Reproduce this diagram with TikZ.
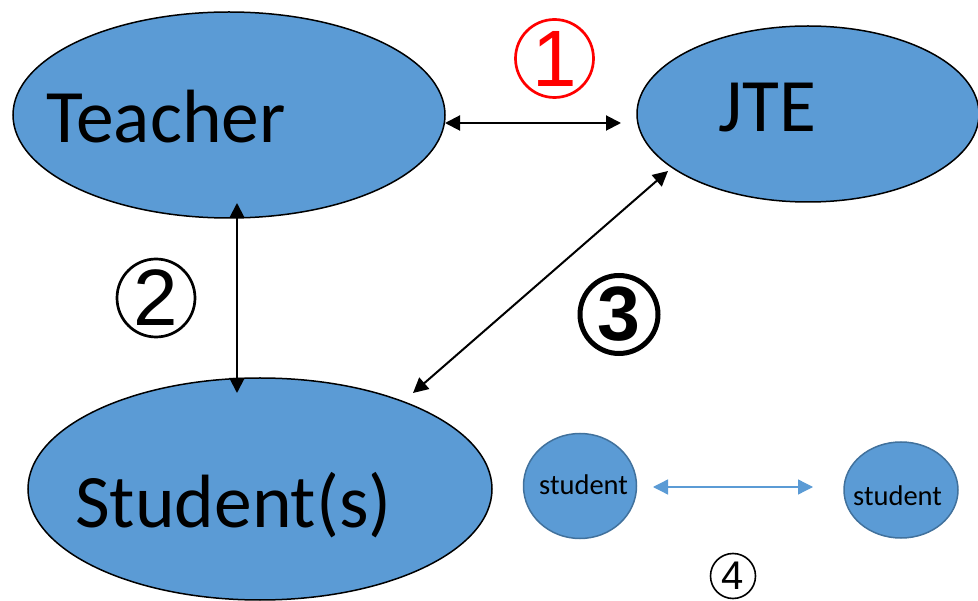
\documentclass[tikz,border=0pt]{standalone}
\usepackage{fontspec}
\setmainfont{Carlito}
\newfontfamily\numfont{Liberation Sans}
\usetikzlibrary{arrows.meta,shapes.geometric}
\definecolor{fillblue}{HTML}{5B9BD5}
\definecolor{edgeblue}{HTML}{41719C}
\tikzset{
  bigell/.style={ellipse,draw=black,line width=1.5pt,fill=fillblue,inner sep=0pt},
  smallell/.style={ellipse,draw=edgeblue,line width=1.5pt,fill=fillblue,inner sep=0pt},
  bigtext/.style={anchor=base west,inner sep=0pt,font=\fontsize{75.5}{75.5}\selectfont},
  smalltext/.style={anchor=base west,inner sep=0pt,font=\fontsize{28.5}{28.5}\selectfont},
  twoway/.style={line width=2pt,{Triangle[length=15pt,width=15pt]}-{Triangle[length=15pt,width=15pt]}},
  bluearrow/.style={draw=fillblue,line width=1.3pt,{Triangle[length=15pt,width=15pt]}-{Triangle[length=15pt,width=15pt]}},
  circnum/.style={circle,draw,inner sep=0pt},
}
\begin{document}
\begin{tikzpicture}[x=1pt,y=-1pt]
\useasboundingbox (0,0) rectangle (978,601);
% ellipses
\node[bigell,minimum width=432pt,minimum height=206pt] (teacher) at (229,115) {};
\node[bigell,minimum width=342pt,minimum height=176pt] (jte) at (808,114) {};
\node[bigell,minimum width=464pt,minimum height=222pt] (students) at (260,489) {};
\node[smallell,minimum width=113pt,minimum height=105pt] (stuA) at (580,486) {};
\node[smallell,minimum width=114pt,minimum height=96pt] (stuB) at (901,490) {};
% labels
\node[bigtext] (teachertxt) at (46,143) {Teacher};
\node[bigtext] (jtetxt) at (718,132) {JTE};
\node[bigtext] (studentstxt) at (75,528) {Student(s)};
\node[smalltext] (stuAtxt) at (539,495) {student};
\node[smalltext] (stuBtxt) at (853,506) {student};
% arrow end points
\coordinate (a1s) at (445,123);
\coordinate (a1e) at (621,123);
\coordinate (a2s) at (237,203);
\coordinate (a2e) at (237,393);
\coordinate (a3s) at (668,171);
\coordinate (a3e) at (413,393);
\coordinate (a4s) at (653,487);
\coordinate (a4e) at (813,487);
\draw[twoway] (a1s) -- (a1e);
\draw[twoway] (a2s) -- (a2e);
\draw[twoway] (a3s) -- (a3e);
\draw[bluearrow] (a4s) -- (a4e);
% circled numbers
\node[circnum,draw=red,text=red,line width=2.7pt,minimum size=78pt,font=\numfont\fontsize{80}{80}\selectfont] (n1) at (554.5,58.5) {1};
\node[circnum,line width=2.7pt,minimum size=78pt,font=\numfont\fontsize{80}{80}\selectfont] (n2) at (156,298) {2};
\node[circnum,line width=5pt,minimum size=78pt,font=\numfont\bfseries\fontsize{77}{77}\selectfont] (n3) at (619,314.5) {3};
\node[circnum,line width=1.6pt,minimum size=45pt,font=\numfont\fontsize{40}{40}\selectfont] (n4) at (733,576) {4};
\end{tikzpicture}
\end{document}
